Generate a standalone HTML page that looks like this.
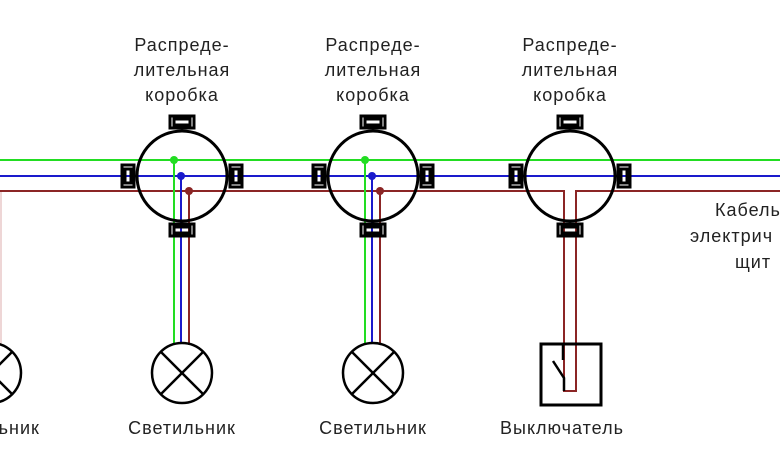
<!DOCTYPE html>
<html><head><meta charset="utf-8"><style>
html,body{margin:0;padding:0;background:#fff;}
svg{display:block;}
text{font-family:"Liberation Sans","DejaVu Sans",sans-serif;font-size:18px;fill:#222;letter-spacing:1px;}
</style></head><body>
<svg width="780" height="470" viewBox="0 0 780 470" xmlns="http://www.w3.org/2000/svg">
<g text-anchor="middle">
<text x="182" y="51">Распреде-</text><text x="182" y="76">лительная</text><text x="182" y="101">коробка</text>
<text x="373" y="51">Распреде-</text><text x="373" y="76">лительная</text><text x="373" y="101">коробка</text>
<text x="570" y="51">Распреде-</text><text x="570" y="76">лительная</text><text x="570" y="101">коробка</text>
<text x="182" y="434">Светильник</text>
<text x="373" y="434">Светильник</text>
<text x="562" y="434">Выключатель</text>
<text x="8" y="434">ильник</text>
</g>
<text x="715" y="216">Кабель</text>
<text x="690" y="242">электрич</text>
<text x="735" y="268">щит</text>
<line x1="1" y1="191" x2="1" y2="345" stroke="#e8c8c8" stroke-width="1.5"/>
<line x1="0" y1="160" x2="780" y2="160" stroke="#22dd22" stroke-width="2"/>
<line x1="0" y1="176" x2="780" y2="176" stroke="#1a1acc" stroke-width="2"/>
<polyline points="0,191 564,191 564,391 576,391 576,191 780,191" fill="none" stroke="#8b2525" stroke-width="2"/>
<g stroke-width="2">
<line x1="174" y1="160" x2="174" y2="345" stroke="#22dd22"/>
<line x1="181" y1="176" x2="181" y2="343" stroke="#1a1acc"/>
<line x1="189" y1="191" x2="189" y2="345" stroke="#8b2525"/>
<line x1="365" y1="160" x2="365" y2="345" stroke="#22dd22"/>
<line x1="372" y1="176" x2="372" y2="343" stroke="#1a1acc"/>
<line x1="380" y1="191" x2="380" y2="345" stroke="#8b2525"/>
</g>
<g fill="#22dd22"><circle cx="174" cy="160" r="4"/><circle cx="365" cy="160" r="4"/></g>
<g fill="#1a1acc"><circle cx="181" cy="176" r="4"/><circle cx="372" cy="176" r="4"/></g>
<g fill="#8b2525"><circle cx="189" cy="191" r="4"/><circle cx="380" cy="191" r="4"/></g>
<defs>
<g id="box" fill="none" stroke="#000" stroke-width="3">
<circle cx="0" cy="0" r="45"/>
<rect x="-12" y="-60" width="24" height="12"/><rect x="-8" y="-57" width="16" height="6"/>
<rect x="-12" y="48" width="24" height="12"/><rect x="-8" y="51" width="16" height="6"/>
<rect x="-60" y="-11" width="12" height="22"/><rect x="-57" y="-7" width="6" height="14"/>
<rect x="48" y="-11" width="12" height="22"/><rect x="51" y="-7" width="6" height="14"/>
</g>
<g id="lamp" fill="none" stroke="#000" stroke-width="2.5">
<circle cx="0" cy="0" r="30"/>
<line x1="-21" y1="-21" x2="21" y2="21"/><line x1="-21" y1="21" x2="21" y2="-21"/>
</g>
</defs>
<use href="#box" x="182" y="176"/>
<use href="#box" x="373" y="176"/>
<use href="#box" x="570" y="176"/>
<use href="#lamp" x="182" y="373"/>
<use href="#lamp" x="373" y="373"/>
<use href="#lamp" x="-9" y="373"/>
<rect x="541" y="344" width="60" height="61" fill="none" stroke="#000" stroke-width="3"/>
<g stroke="#000" stroke-width="2.5" fill="none">
<line x1="563" y1="344" x2="563" y2="360"/>
<polyline points="553,361 564,378 564,391"/>
</g>
</svg>
</body></html>
